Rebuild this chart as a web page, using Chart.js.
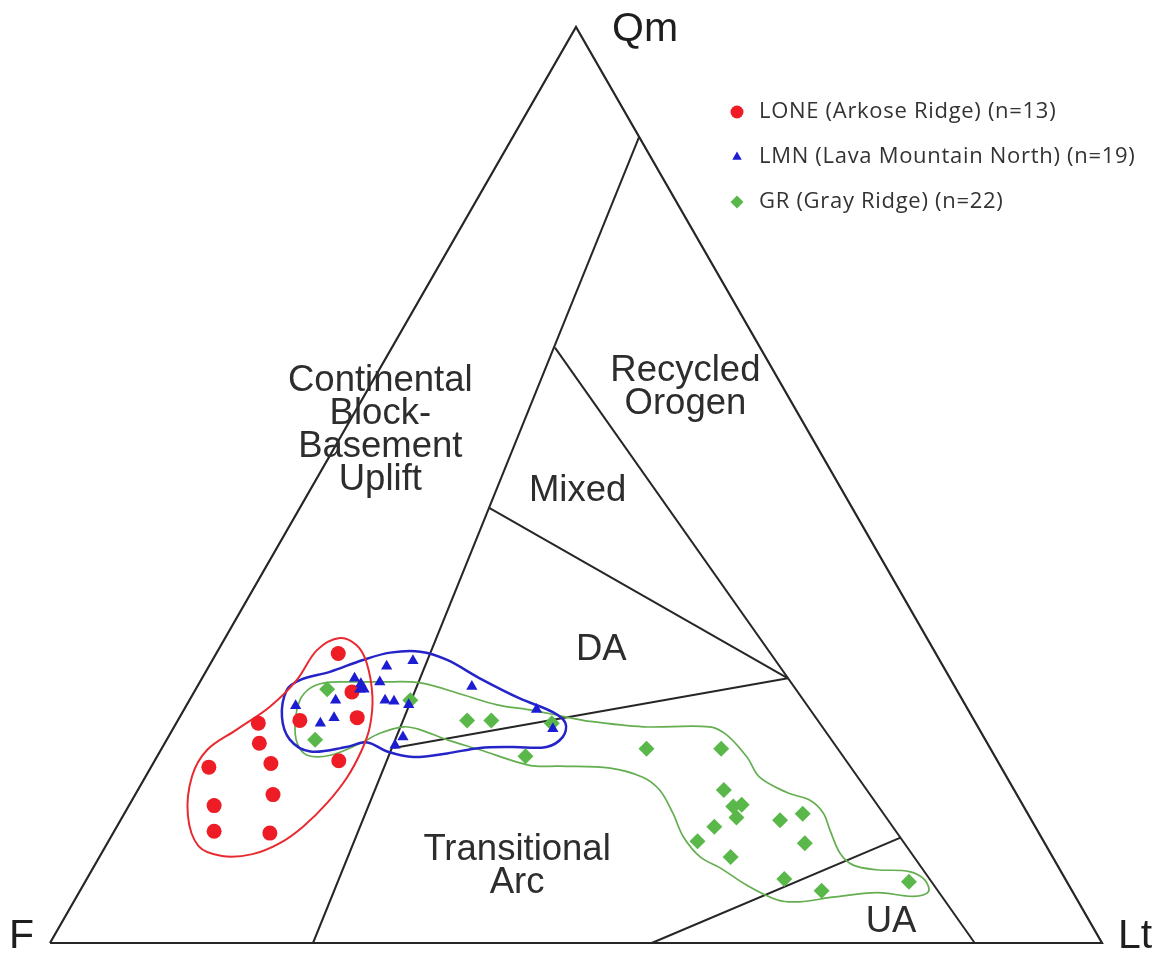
<!DOCTYPE html>
<html>
<head>
<meta charset="utf-8">
<title>QmFLt</title>
<script src="https://cdn.jsdelivr.net/npm/chart.js@4/dist/chart.umd.min.js"></script>
<style>
  html, body { margin: 0; padding: 0; background: #fff; }
</style>
</head>
<body>
<canvas id="qmflt" width="1168" height="954"></canvas>
<script>
// point counts in % (Qm, F, Lt)
const loneQm = [31.6, 27.4, 24.0, 24.3, 24.6, 21.8, 19.2, 19.6, 19.9, 15.0, 16.2, 12.2, 12.0];
const loneF  = [56.8, 57.6, 68.2, 64.1, 58.5, 69.2, 75.3, 69.2, 62.6, 76.9, 70.7, 78.3, 73.1];
const loneLt = [11.6, 15.0, 7.8, 11.6, 16.9, 9.0, 5.5, 11.2, 17.5, 8.1, 13.1, 9.5, 14.9];

const lmnQm = [30.2, 30.8, 28.9, 28.5, 27.7, 27.7, 28.0, 25.9, 26.5, 26.5, 26.4, 26.0, 24.0, 24.6, 25.5, 23.4, 22.5, 21.6, 28.3];
const lmnF  = [52.9, 50.1, 56.6, 54.4, 56.7, 56.3, 45.9, 63.7, 59.6, 54.9, 54.1, 52.9, 62.3, 60.7, 41.0, 40.5, 55.2, 56.4, 56.3];
const lmnLt = [16.9, 19.1, 14.5, 17.1, 15.6, 16.0, 26.1, 10.4, 13.9, 18.6, 19.5, 21.1, 13.7, 14.7, 33.5, 36.1, 22.3, 22.0, 15.4];

const grQm = [27.7, 22.2, 26.5, 24.3, 24.3, 20.4, 24.0, 21.2, 21.2, 16.7, 14.9, 15.1, 13.7, 12.7, 11.1, 9.4, 13.4, 14.1, 10.9, 7.0, 5.7, 6.7];
const grF  = [59.8, 63.7, 52.5, 48.2, 45.9, 44.6, 40.3, 32.7, 25.6, 27.6, 27.6, 26.7, 27.9, 30.5, 32.9, 30.6, 23.9, 21.4, 22.8, 26.7, 23.8, 15.0];
const grLt = [12.5, 14.1, 21.0, 27.5, 29.8, 35.0, 35.7, 46.1, 53.2, 55.7, 57.5, 58.2, 58.4, 56.8, 56.0, 60.0, 62.7, 64.5, 66.3, 66.3, 70.5, 78.3];

// hand-drawn envelopes round each suite (Qm, Lt in %, F is the rest)
const loneEnvQm = [33.3, 32.5, 30.6, 26.9, 23.6, 21.1, 18.1, 15.3, 12.7, 10.9, 9.7, 9.5, 10.6, 14.0, 18.2, 21.1, 23.3, 25.8, 28.7, 32.0];
const loneEnvLt = [10.9, 12.9, 14.8, 17.2, 18.6, 19.1, 19.2, 18.7, 17.7, 16.4, 14.4, 11.6, 8.8, 6.1, 4.4, 4.4, 6.1, 8.0, 9.1, 9.4];

const lmnEnvQm = [28.7, 29.6, 30.9, 31.7, 31.8, 30.9, 28.9, 26.7, 25.2, 24.0, 22.5, 21.4, 21.4, 21.3, 20.7, 20.3, 20.9, 21.9, 21.4, 20.9, 22.2, 24.7, 27.6];
const lmnEnvLt = [9.4, 11.8, 14.3, 16.5, 19.3, 22.3, 26.4, 31.3, 35.2, 37.0, 37.5, 36.5, 33.3, 30.2, 27.4, 24.4, 21.6, 19.2, 17.5, 14.3, 11.7, 9.7, 8.7];

const grEnvQm = [21.8, 24.0, 26.5, 27.8, 28.4, 28.5, 28.5, 28.4, 27.1, 26.0, 25.4, 24.8, 24.2, 23.6, 23.6, 22.7, 20.3, 18.1, 16.4, 15.6,
                 14.2, 12.3, 9.8, 8.5, 8.0, 7.8, 6.9, 5.6, 5.1, 5.5, 5.0, 4.5, 4.7, 6.3, 8.2, 9.4, 11.6, 14.2, 16.7, 18.1,
                 19.1, 19.3, 19.4, 21.1, 22.2, 23.3, 23.6, 22.9, 21.8, 20.5, 20.5];
const grEnvLt = [12.6, 11.3, 10.5, 10.8, 11.9, 14.3, 17.1, 21.0, 25.7, 29.5, 33.2, 36.1, 39.2, 44.6, 50.9, 53.0, 56.1, 58.4, 61.9, 64.4,
                 66.4, 68.0, 70.2, 72.1, 74.6, 77.8, 79.7, 80.7, 79.5, 75.9, 71.9, 69.0, 66.8, 63.1, 59.6, 57.1, 54.4, 52.1, 49.6, 47.3,
                 43.7, 38.8, 35.9, 30.3, 26.6, 23.5, 21.8, 19.9, 18.6, 16.4, 14.2];

// field boundaries, each node as [Qm, F, Lt]
const frame = [[0, 100, 0], [0, 0, 100], [100, 0, 0], [0, 100, 0]];
const blockLine = [[88, 0, 12], [0, 75, 25]];
const orogenLine = [[65, 19.5, 15.5], [0, 12.1, 87.9]];
const mixedLine = [[47.5, 34.5, 18], [28.9, 15.4, 55.7]];
const dissectedLine = [[21.3, 56.7, 22], [28.9, 15.4, 55.7]];
const undissectedLine = [[0, 42.8, 57.2], [11.5, 13.4, 75.1]];

// field names and where they sit (Qm, Lt)
const fieldNames = [
  ["Continental", "Block-", "Basement", "Uplift"],
  ["Recycled", "Orogen"],
  ["Mixed"],
  ["DA"],
  ["Transitional", "Arc"],
  ["UA"]
];
const fieldQm = [56.0, 60.6, 49.3, 32.0, 8.4, 2.3];
const fieldLt = [3.4, 30.1, 25.5, 36.4, 40.2, 78.8];

const poleNames = ["Qm", "F", "Lt"];

function toXY(qm, f, lt) {
  const sum = qm + f + lt;
  return { x: (lt + qm / 2) / sum * 100, y: qm / sum * 100 };
}

function suite(qm, f, lt) {
  return qm.map((q, i) => toXY(q, f[i], lt[i]));
}

function envelope(qm, lt) {
  return qm.map((q, i) => toXY(q, 100 - q - lt[i], lt[i]));
}

function polyline(nodes) {
  return nodes.map((n) => toXY(n[0], n[1], n[2]));
}

function boundary(nodes, width) {
  return {
    data: polyline(nodes),
    showLine: true,
    borderColor: "#262626",
    borderWidth: width || 2,
    pointRadius: 0,
    tension: 0,
    clip: false,
    order: 10,
  };
}

function outline(qm, lt, color, width) {
  return {
    data: envelope(qm, lt),
    closed: true,
    showLine: true,
    borderColor: color,
    borderWidth: width,
    pointRadius: 0,
    tension: 0.35,
    clip: false,
    order: 5,
  };
}

function samples(label, qm, f, lt, style, radius, color, order) {
  return {
    label: label,
    data: suite(qm, f, lt),
    inLegend: true,
    showLine: false,
    pointStyle: style,
    pointRadius: radius,
    pointBackgroundColor: color,
    pointBorderColor: color,
    pointBorderWidth: 0,
    clip: false,
    order: order,
  };
}

// let the envelopes close on themselves with a smooth seam
const closedCurves = {
  id: "closedCurves",
  afterDatasetUpdate(chart, args) {
    const ds = chart.data.datasets[args.index];
    if (ds.closed && args.meta.dataset) {
      args.meta.dataset._loop = true;
      args.meta.dataset._fullLoop = true;
    }
  },
};

const textLayer = {
  id: "textLayer",
  afterDatasetsDraw(chart) {
    const ctx = chart.ctx;
    const xs = chart.scales.x;
    const ys = chart.scales.y;
    ctx.save();

    // field names
    ctx.fillStyle = "#2d2d2d";
    ctx.textAlign = "center";
    ctx.textBaseline = "middle";
    ctx.font = '36.5px "Liberation Sans", Arial, sans-serif';
    fieldNames.forEach((lines, i) => {
      const p = toXY(fieldQm[i], 100 - fieldQm[i] - fieldLt[i], fieldLt[i]);
      const cx = xs.getPixelForValue(p.x);
      const cy = ys.getPixelForValue(p.y);
      lines.forEach((t, j) => {
        ctx.fillText(t, cx, cy + (j - (lines.length - 1) / 2) * 33);
      });
    });

    // poles
    ctx.fillStyle = "#1e1e1e";
    ctx.textBaseline = "alphabetic";
    ctx.font = '41px "Liberation Sans", Arial, sans-serif';
    const qm = toXY(100, 0, 0);
    const f = toXY(0, 100, 0);
    const lt = toXY(0, 0, 100);
    ctx.textAlign = "left";
    ctx.fillText(poleNames[0], xs.getPixelForValue(qm.x) + 36, ys.getPixelForValue(qm.y) + 14);
    ctx.textAlign = "right";
    ctx.fillText(poleNames[1], xs.getPixelForValue(f.x) - 16, ys.getPixelForValue(f.y) + 5);
    ctx.textAlign = "left";
    ctx.fillText(poleNames[2], xs.getPixelForValue(lt.x) + 16, ys.getPixelForValue(lt.y) + 5);

    // legend
    ctx.font = '22px "Open Sans", sans-serif';
    ctx.letterSpacing = "0.7px";
    ctx.textBaseline = "middle";
    let row = 0;
    chart.data.datasets.forEach((ds) => {
      if (!ds.inLegend) return;
      const y = 112 + row * 45;
      ctx.fillStyle = ds.pointBackgroundColor;
      ctx.strokeStyle = ds.pointBackgroundColor;
      Chart.helpers.drawPoint(ctx, {
        pointStyle: ds.pointStyle,
        radius: ds.pointStyle === "triangle" ? 5.5 : 6.5,
        rotation: 0,
        borderWidth: 0,
      }, 737, y);
      ctx.fillStyle = "#333";
      ctx.textAlign = "left";
      ctx.fillText(ds.label, 759, y);
      row++;
    });

    ctx.restore();
  },
};

function init() {
  const ctx = document.getElementById("qmflt");
  new Chart(ctx, {
    type: "line",
    data: {
      datasets: [
        samples("LONE (Arkose Ridge) (n=13)", loneQm, loneF, loneLt, "circle", 7.5, "#ee1c24", 2),
        samples("LMN (Lava Mountain North) (n=19)", lmnQm, lmnF, lmnLt, "triangle", 6.5, "#1c1cd2", 0),
        samples("GR (Gray Ridge) (n=22)", grQm, grF, grLt, "rectRot", 8, "#5ab84a", 1),
        outline(loneEnvQm, loneEnvLt, "#e82a30", 2),
        outline(lmnEnvQm, lmnEnvLt, "#2424c8", 2.5),
        outline(grEnvQm, grEnvLt, "#64ae50", 1.7),
        boundary(frame, 2.2),
        boundary(blockLine),
        boundary(orogenLine),
        boundary(mixedLine),
        boundary(dissectedLine),
        boundary(undissectedLine),
      ],
    },
    options: {
      responsive: false,
      animation: false,
      events: [],
      layout: { padding: { left: 50, right: 66, top: 27, bottom: 11 } },
      scales: {
        x: { type: "linear", min: 0, max: 100, display: false },
        y: { type: "linear", min: 0, max: 100, display: false },
      },
      plugins: {
        legend: { display: false },
        tooltip: { enabled: false },
      },
    },
    plugins: [closedCurves, textLayer],
  });
}

window.onload = init;
</script>
</body>
</html>
